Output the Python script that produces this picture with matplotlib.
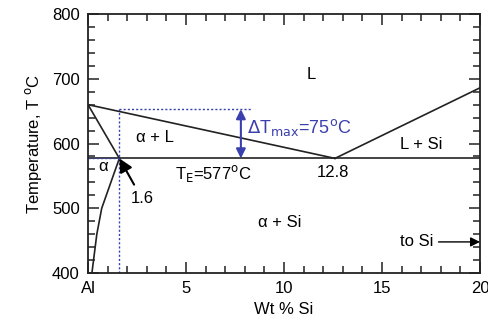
import numpy as np
import matplotlib.pyplot as plt
from matplotlib.ticker import MultipleLocator

plt.rcParams['font.family'] = ['Liberation Sans', 'DejaVu Sans']

# phase boundaries (wt % Si, T in C)
liq_left_x = [0, 12.6]
liq_left_t = [660, 577]
liq_right_x = [12.6, 20]
liq_right_t = [577, 686]
solidus_x = [0, 1.6]
solidus_t = [660, 577]
solvus_x = [1.6, 1.4, 1.05, 0.7, 0.45, 0.2]
solvus_t = [577, 560, 530, 500, 460, 400]
eut_x = [0, 20]
eut_t = [577, 577]
T_E = 577
c_alpha = 1.6
T_top = 653
x_arrow = 7.8

blue = '#3a3fae'
a = '\u03b1'

fig = plt.figure(figsize=(4.89, 3.26), dpi=100)
ax = fig.add_axes([88/489, 53/326, 392/489, 259/326])

k = dict(color='#222222', lw=1.2)
ax.plot(liq_left_x, liq_left_t, **k)
ax.plot(liq_right_x, liq_right_t, **k)
ax.plot(solidus_x, solidus_t, **k)
ax.plot(solvus_x, solvus_t, **k)
ax.plot(eut_x, eut_t, **k)

d = dict(color=blue, lw=1.0, ls=(0, (1.5, 1.5)))
ax.plot([c_alpha, c_alpha], [400, T_top], **d)
ax.plot([c_alpha, 8.3], [T_top, T_top], **d)
ax.plot([0, c_alpha], [T_E, T_E], **d)

ax.annotate('', xy=(x_arrow, T_E), xytext=(x_arrow, T_top),
            arrowprops=dict(arrowstyle='<|-|>', color=blue, lw=1.5,
                            mutation_scale=14, shrinkA=0, shrinkB=0))
ax.text(8.1, 625, r'$\Delta$T$_{\rm max}$=75$^{\rm o}$C', color=blue,
        fontsize=13, va='center', ha='left')

fs = 12
ax.text(11.4, 707, 'L', fontsize=fs, ha='center', va='center')
ax.text(3.4, 610, a + ' + L', fontsize=fs, ha='center', va='center')
ax.text(17.0, 598, 'L + Si', fontsize=fs, ha='center', va='center')
ax.text(0.75, 564, a, fontsize=fs, ha='center', va='center')
ax.text(6.4, 554, r'T$_{\rm E}$=577$^{\rm o}$C', fontsize=fs, ha='center', va='center')
ax.text(12.5, 555, '12.8', fontsize=fs, ha='center', va='center')
ax.text(9.8, 478, a + ' + Si', fontsize=fs, ha='center', va='center')
ax.annotate('1.6', xy=(c_alpha, T_E), xytext=(2.75, 515), fontsize=fs,
            ha='center', va='center',
            arrowprops=dict(arrowstyle='-|>', color='black', lw=1.5,
                            mutation_scale=20, shrinkA=3, shrinkB=0))
ax.annotate('to Si', xy=(20, 448), xytext=(17.6, 448), fontsize=fs,
            ha='right', va='center',
            arrowprops=dict(arrowstyle='-|>', color='black', lw=1.0,
                            mutation_scale=14, shrinkA=2, shrinkB=0))

ax.set_xlim(0, 20)
ax.set_ylim(400, 800)
ax.yaxis.set_major_locator(MultipleLocator(100))
ax.yaxis.set_minor_locator(MultipleLocator(20))
ax.xaxis.set_minor_locator(MultipleLocator(1))
ax.set_xticks([0, 5, 10, 15, 20])
ax.set_xticklabels(['Al', '5', '10', '15', '20'])
ax.tick_params(which='both', direction='in', top=True, right=True,
               labelsize=12, width=1.1, color='#222222')
ax.tick_params(which='major', length=8, pad=6)
ax.tick_params(which='minor', length=5)
for s in ax.spines.values():
    s.set_linewidth(1.3)
    s.set_color('#222222')
ax.set_xlabel('Wt % Si', fontsize=12, labelpad=4)
ax.set_ylabel(r'Temperature, T $^{\rm o}$C', fontsize=12, labelpad=6)

fig.savefig('out.png', dpi=100)
